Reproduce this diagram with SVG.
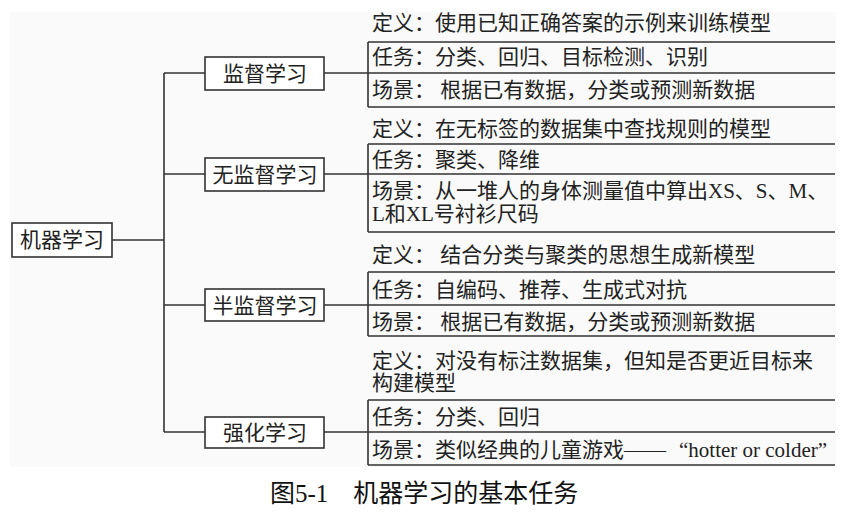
<svg xmlns="http://www.w3.org/2000/svg" width="864" height="513" viewBox="0 0 864 513">
  <style>
    .t { font-family: "Liberation Serif", "Noto Sans CJK SC", serif; font-size: 21px; fill: #222; }
    .lbl { font-family: "Liberation Serif", "Noto Sans CJK SC", serif; font-size: 21px; fill: #222; text-anchor: middle; }
    .cap { font-family: "Liberation Serif", "Noto Sans CJK SC", serif; font-size: 25px; fill: #111; }
    .box { fill: #ffffff; stroke: #333; stroke-width: 1.6; }
    .ln { fill: none; stroke: #333; stroke-width: 1.6; }
  </style>
  <rect x="0" y="0" width="864" height="513" fill="#ffffff"/>
  <rect x="10" y="12" width="826" height="455" fill="#fafafa"/>

  <g id="connectors">
    <path class="ln" d="M112 240 H164"/>
    <path class="ln" d="M164 73 V432"/>
    <path class="ln" d="M164 73 H205"/>
    <path class="ln" d="M164 174 H205"/>
    <path class="ln" d="M164 305 H205"/>
    <path class="ln" d="M164 432 H205"/>
    <path class="ln" d="M324 73 H368"/>
    <path class="ln" d="M324 174 H368"/>
    <path class="ln" d="M324 305 H368"/>
    <path class="ln" d="M324 432 H368"/>
  </g>

  <g id="root">
    <rect class="box" x="12" y="223" width="100" height="34"/>
    <text class="lbl" x="62" y="247">机器学习</text>
  </g>

  <g id="supervised">
    <rect class="box" x="205" y="57" width="119" height="33"/>
    <text class="lbl" x="265" y="81">监督学习</text>
  </g>
  <g id="unsupervised">
    <rect class="box" x="205" y="158" width="119" height="33"/>
    <text class="lbl" x="265" y="182">无监督学习</text>
  </g>
  <g id="semisupervised">
    <rect class="box" x="205" y="289" width="119" height="32"/>
    <text class="lbl" x="265" y="313">半监督学习</text>
  </g>
  <g id="reinforcement">
    <rect class="box" x="205" y="417" width="119" height="31"/>
    <text class="lbl" x="265" y="440">强化学习</text>
  </g>

  <g id="panel-supervised">
    <path class="ln" d="M368 42 V107 M368 42 H835 M368 73 H835 M368 107 H835"/>
    <text class="t" x="372" y="30">定义：使用已知正确答案的示例来训练模型</text>
    <text class="t" x="372" y="64">任务：分类、回归、目标检测、识别</text>
    <text class="t" x="372" y="97">场景： 根据已有数据，分类或预测新数据</text>
  </g>

  <g id="panel-unsupervised">
    <path class="ln" d="M368 144 V232 M368 144 H835 M368 174 H835 M368 232 H835"/>
    <text class="t" x="372" y="136">定义：在无标签的数据集中查找规则的模型</text>
    <text class="t" x="372" y="167">任务：聚类、降维</text>
    <text class="t" x="372" y="198">场景：从一堆人的身体测量值中算出XS、S、M、</text>
    <text class="t" x="372" y="221">L和XL号衬衫尺码</text>
  </g>

  <g id="panel-semisupervised">
    <path class="ln" d="M368 272 V336 M368 272 H835 M368 305 H835 M368 336 H835"/>
    <text class="t" x="372" y="262">定义： 结合分类与聚类的思想生成新模型</text>
    <text class="t" x="372" y="297">任务：自编码、推荐、生成式对抗</text>
    <text class="t" x="372" y="329">场景： 根据已有数据，分类或预测新数据</text>
  </g>

  <g id="panel-reinforcement">
    <path class="ln" d="M368 400 V465 M368 400 H835 M368 432 H835 M368 465 H835"/>
    <text class="t" x="372" y="368">定义：对没有标注数据集，但知是否更近目标来</text>
    <text class="t" x="372" y="390">构建模型</text>
    <text class="t" x="372" y="424">任务：分类、回归</text>
    <text class="t" x="372" y="457">场景：类似经典的儿童游戏——<tspan x="679">“hotter or colder”</tspan></text>
  </g>

  <g id="caption">
    <text class="cap" x="270" y="502">图5-1　机器学习的基本任务</text>
  </g>
</svg>
